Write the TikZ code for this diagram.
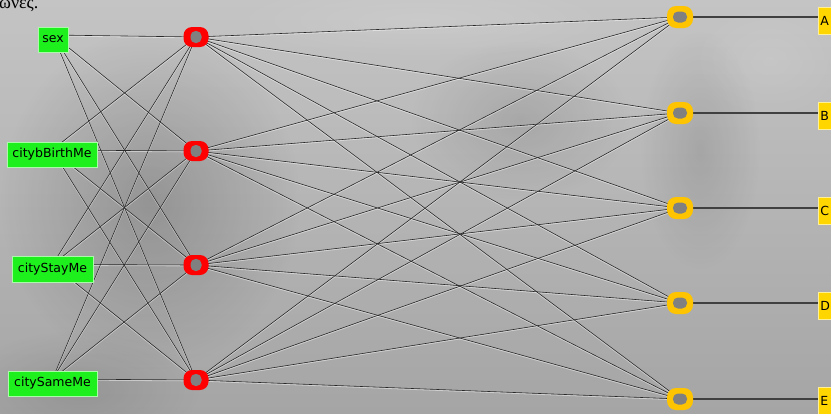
\documentclass[tikz,border=0pt]{standalone}
\usepackage{fontspec}
\setsansfont{DejaVu Sans}
\newfontfamily\greekfont{Liberation Serif}
\usetikzlibrary{fadings}
\pgfdeclarelayer{bg}
\pgfdeclarelayer{edges}
\pgfsetlayers{bg,edges,main}
\definecolor{bgtop}{RGB}{196,196,196}
\definecolor{bgbot}{RGB}{165,165,165}
\definecolor{ingreen}{RGB}{30,240,30}
\definecolor{inedge}{RGB}{170,250,170}
\definecolor{nodegray}{RGB}{128,128,128}
\definecolor{outorange}{RGB}{255,196,0}
\definecolor{labyellow}{RGB}{255,214,0}
\definecolor{labedge}{RGB}{255,240,150}
\definecolor{wirecol}{RGB}{40,40,40}
\tikzfading[name=fuzzyc, inner color=transparent!0, outer color=transparent!100]
\begin{document}
\begin{tikzpicture}[x=1pt,y=-1pt,
  inbox/.style={draw=inedge, fill=ingreen, line width=0.8, minimum height=25, inner sep=0,
    font=\sffamily\fontsize{12.5}{14}\selectfont},
  hid/.style={fill=red, rounded corners=8.5,
    minimum width=25, minimum height=20, inner sep=0,
    path picture={\fill[nodegray, rounded corners=5] ([xshift=-5.5,yshift=-6]path picture bounding box.center) rectangle ([xshift=5.5,yshift=6]path picture bounding box.center);}},
  outn/.style={fill=outorange, rounded corners=9,
    minimum width=26, minimum height=22, inner sep=0,
    path picture={\fill[nodegray, rounded corners=5] ([xshift=-7,yshift=-5.5]path picture bounding box.center) rectangle ([xshift=7,yshift=5.5]path picture bounding box.center);}},
  lab/.style={draw=labedge, fill=labyellow, line width=0.8, anchor=west, minimum height=27,
    inner xsep=2, inner ysep=0, text width=26, align=left,
    font=\sffamily\fontsize{12.5}{14}\selectfont},
  halo/.style={draw=white, line width=1.1, opacity=0.45},
  wire/.style={draw=wirecol, line width=0.6},
  outwire/.style={draw=black!75, line width=1.2}
]
\useasboundingbox (0,0) rectangle (831,413);
\begin{pgfonlayer}{bg}
  \shade[top color=bgtop, bottom color=bgbot] (0,0) rectangle (831,413);
  \fill[black, opacity=0.18, path fading=fuzzyc] (150,200) ellipse (150 and 170);
  \fill[black, opacity=0.10, path fading=fuzzyc] (80,390) ellipse (120 and 60);
  \fill[black, opacity=0.10, path fading=fuzzyc] (520,120) ellipse (110 and 80);
  \fill[black, opacity=0.10, path fading=fuzzyc] (700,150) ellipse (60 and 120);
  \fill[white, opacity=0.12, path fading=fuzzyc] (420,20) ellipse (200 and 40);
  \fill[white, opacity=0.10, path fading=fuzzyc] (770,60) ellipse (80 and 60);
\end{pgfonlayer}

\node[font=\greekfont\fontsize{18}{20}\selectfont, anchor=base west, inner sep=0] (gr) at (-1,8) {ωνες.};

\node[inbox, minimum width=30] (in1) at (53,39.5) {sex};
\node[inbox, minimum width=90] (in2) at (52,154.5) {citybBirthMe};
\node[inbox, minimum width=81, minimum height=26] (in3) at (52.5,269) {cityStayMe};
\node[inbox, minimum width=89] (in4) at (52.5,383.5) {citySameMe};

\node[hid] (h1) at (196,37) {};
\node[hid] (h2) at (196,151) {};
\node[hid] (h3) at (196,265) {};
\node[hid] (h4) at (196,380) {};

\node[outn] (o1) at (680,17) {};
\node[outn] (o2) at (680,113) {};
\node[outn] (o3) at (680,208) {};
\node[outn] (o4) at (680,303) {};
\node[outn] (o5) at (680,399) {};

\node[lab] (l1) at (818,21) {A};
\node[lab] (l2) at (818,116) {B};
\node[lab] (l3) at (818,211) {C};
\node[lab] (l4) at (818,306) {D};
\node[lab] (l5) at (818,401) {E};

\begin{pgfonlayer}{edges}
  \foreach \i in {1,...,4}{\foreach \j in {1,...,4}{\draw[halo] ([yshift=3.7]in\i.center) -- ([yshift=-0.8]h\j.center);}}
  \foreach \j in {1,...,4}{\foreach \k in {1,...,5}{\draw[halo] ([yshift=-0.8]h\j.center) -- ([yshift=-0.8]o\k.center);}}
  \foreach \i in {1,...,4}{\foreach \j in {1,...,4}{\draw[wire] ([yshift=4.5]in\i.center) -- (h\j.center);}}
  \foreach \j in {1,...,4}{\foreach \k in {1,...,5}{\draw[wire] (h\j.center) -- (o\k.center);}}
  \foreach \k in {1,...,5}{\draw[outwire] (o\k.center) -- (o\k.center -| l\k.west);}
\end{pgfonlayer}
\end{tikzpicture}
\end{document}
